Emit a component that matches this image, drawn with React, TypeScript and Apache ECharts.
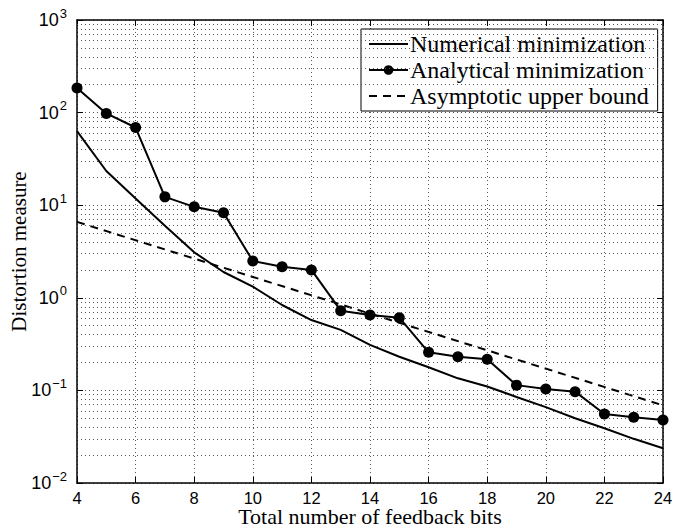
import React, { useEffect, useRef } from "react";
import * as echarts from "echarts";

const bits = [4, 5, 6, 7, 8, 9, 10, 11, 12, 13, 14, 15, 16, 17, 18, 19, 20, 21, 22, 23, 24];
const numerical = [63, 23.4, 11.8, 6.0, 3.1, 1.9, 1.32, 0.836, 0.575, 0.45, 0.31, 0.231, 0.178, 0.135, 0.11, 0.085, 0.066, 0.05, 0.039, 0.03, 0.0237];
const analytical = [184, 98, 69, 12.3, 9.6, 8.3, 2.5, 2.17, 2.0, 0.726, 0.652, 0.61, 0.258, 0.231, 0.217, 0.114, 0.1035, 0.0969, 0.0556, 0.0513, 0.0478];
const boundBits = [4, 24];
const boundValues = [6.6, 0.069];
const minorGridValues = [
  0.02, 0.03, 0.04, 0.05, 0.06, 0.07, 0.08, 0.09,
  0.2, 0.3, 0.4, 0.5, 0.6, 0.7, 0.8, 0.9,
  2, 3, 4, 5, 6, 7, 8, 9,
  20, 30, 40, 50, 60, 70, 80, 90,
  200, 300, 400, 500, 600, 700, 800, 900,
];
const seriesNames = ["Numerical minimization", "Analytical minimization", "Asymptotic upper bound"];
const xTitle = "Total number of feedback bits";
const yTitle = "Distortion measure";

const sans = "Liberation Sans, Arial, Helvetica, sans-serif";
const serif = "Liberation Serif, Times New Roman, serif";

function supLabel(v: number) {
  const e = Math.round(Math.log10(v));
  return "10{sup|" + (e < 0 ? "\u2212" + -e : String(e)) + "}";
}

export default function App() {
  const ref = useRef<HTMLDivElement>(null);
  useEffect(() => {
    if (!ref.current) return;
    const chart = echarts.init(ref.current, undefined, { renderer: "svg" });
    const dotted = { color: "#555", width: 1, type: [1, 3] as any };
    const option: any = {
      animation: false,
      backgroundColor: "#fff",
      grid: { left: 77, right: 25, top: 20, bottom: 44, show: false, containLabel: false, outerBoundsMode: "none" },
      graphic: [
        {
          type: "text",
          x: 370,
          y: 526,
          silent: true,
          style: {
            text: xTitle,
            fontFamily: serif,
            fontSize: 22,
            lineHeight: 20,
            fill: "#000",
            align: "center",
            verticalAlign: "bottom",
          },
        },
      ],
      legend: {
        left: 361,
        top: 29,
        orient: "vertical",
        itemWidth: 39,
        itemHeight: 12,
        itemGap: 2,
        padding: [3, 9, 3, 7],
        backgroundColor: "#fff",
        borderColor: "#000",
        borderWidth: 1,
        borderRadius: 0,
        selectedMode: false,
        data: [
          { name: seriesNames[0], itemStyle: { opacity: 0 } },
          { name: seriesNames[1] },
          { name: seriesNames[2], itemStyle: { opacity: 0 } },
        ],
        textStyle: { fontFamily: serif, fontSize: 24, lineHeight: 24, color: "#000", padding: [0, 0, 0, -3] },
      },
      xAxis: [
        {
          type: "value",
          min: 4,
          max: 24,
          interval: 2,
          axisLine: { show: true, onZero: false, lineStyle: { color: "#000", width: 1.5 } },
          axisTick: { show: true, inside: true, length: 6, lineStyle: { color: "#000" } },
          axisLabel: { fontFamily: sans, fontSize: 16.5, lineHeight: 16, color: "#000", margin: 7 },
          splitLine: { show: true, lineStyle: dotted },
        },
        {
          type: "value",
          position: "top",
          min: 4,
          max: 24,
          interval: 2,
          axisLine: { show: true, onZero: false, lineStyle: { color: "#000", width: 1.5 } },
          axisTick: { show: true, inside: true, length: 6, lineStyle: { color: "#000" } },
          axisLabel: { show: false },
          splitLine: { show: false },
        },
      ],
      yAxis: [
        {
          type: "log",
          logBase: 10,
          min: 0.01,
          max: 1000,
          name: yTitle,
          nameLocation: "middle",
          nameGap: 48,
          nameMoveOverlap: false,
          nameTextStyle: { fontFamily: serif, fontSize: 21, color: "#000" },
          axisLine: { show: true, onZero: false, lineStyle: { color: "#000", width: 1.5 } },
          axisTick: { show: true, inside: true, length: 6, lineStyle: { color: "#000" } },
          axisLabel: {
            formatter: supLabel,
            fontFamily: sans,
            fontSize: 18,
            color: "#000",
            margin: 10,
            rich: {
              sup: { fontFamily: sans, fontSize: 13, color: "#000", padding: [0, 0, 14, 1] },
            },
          },
          splitLine: { show: true, lineStyle: dotted },
        },
        {
          type: "log",
          logBase: 10,
          min: 0.01,
          max: 1000,
          position: "right",
          axisLine: { show: true, onZero: false, lineStyle: { color: "#000", width: 1.5 } },
          axisTick: { show: true, inside: true, length: 6, lineStyle: { color: "#000" } },
          axisLabel: { show: false },
          splitLine: { show: false },
        },
      ],
      series: [
        {
          name: "grid-minor",
          type: "line",
          data: [],
          silent: true,
          markLine: {
            silent: true,
            symbol: "none",
            label: { show: false },
            lineStyle: { color: "#555", width: 1, type: [1, 3] },
            data: minorGridValues.map((v) => ({ yAxis: v })),
          },
        },
        {
          name: seriesNames[0],
          type: "line",
          data: bits.map((b, i) => [b, numerical[i]]),
          symbol: "none",
          lineStyle: { color: "#000", width: 2 },
          itemStyle: { color: "#000" },
          z: 5,
        },
        {
          name: seriesNames[1],
          type: "line",
          data: bits.map((b, i) => [b, analytical[i]]),
          symbol: "circle",
          symbolSize: 11,
          lineStyle: { color: "#000", width: 2 },
          itemStyle: { color: "#000" },
          z: 6,
        },
        {
          name: seriesNames[2],
          type: "line",
          data: boundBits.map((b, i) => [b, boundValues[i]]),
          symbol: "none",
          lineStyle: { color: "#000", width: 2, type: [8, 6] },
          itemStyle: { color: "#000" },
          z: 4,
        },
      ],
    };
    chart.setOption(option);
    return () => chart.dispose();
  }, []);
  return <div ref={ref} style={{ width: 688, height: 527, position: "absolute", left: 0, top: 0 }} />;
}
